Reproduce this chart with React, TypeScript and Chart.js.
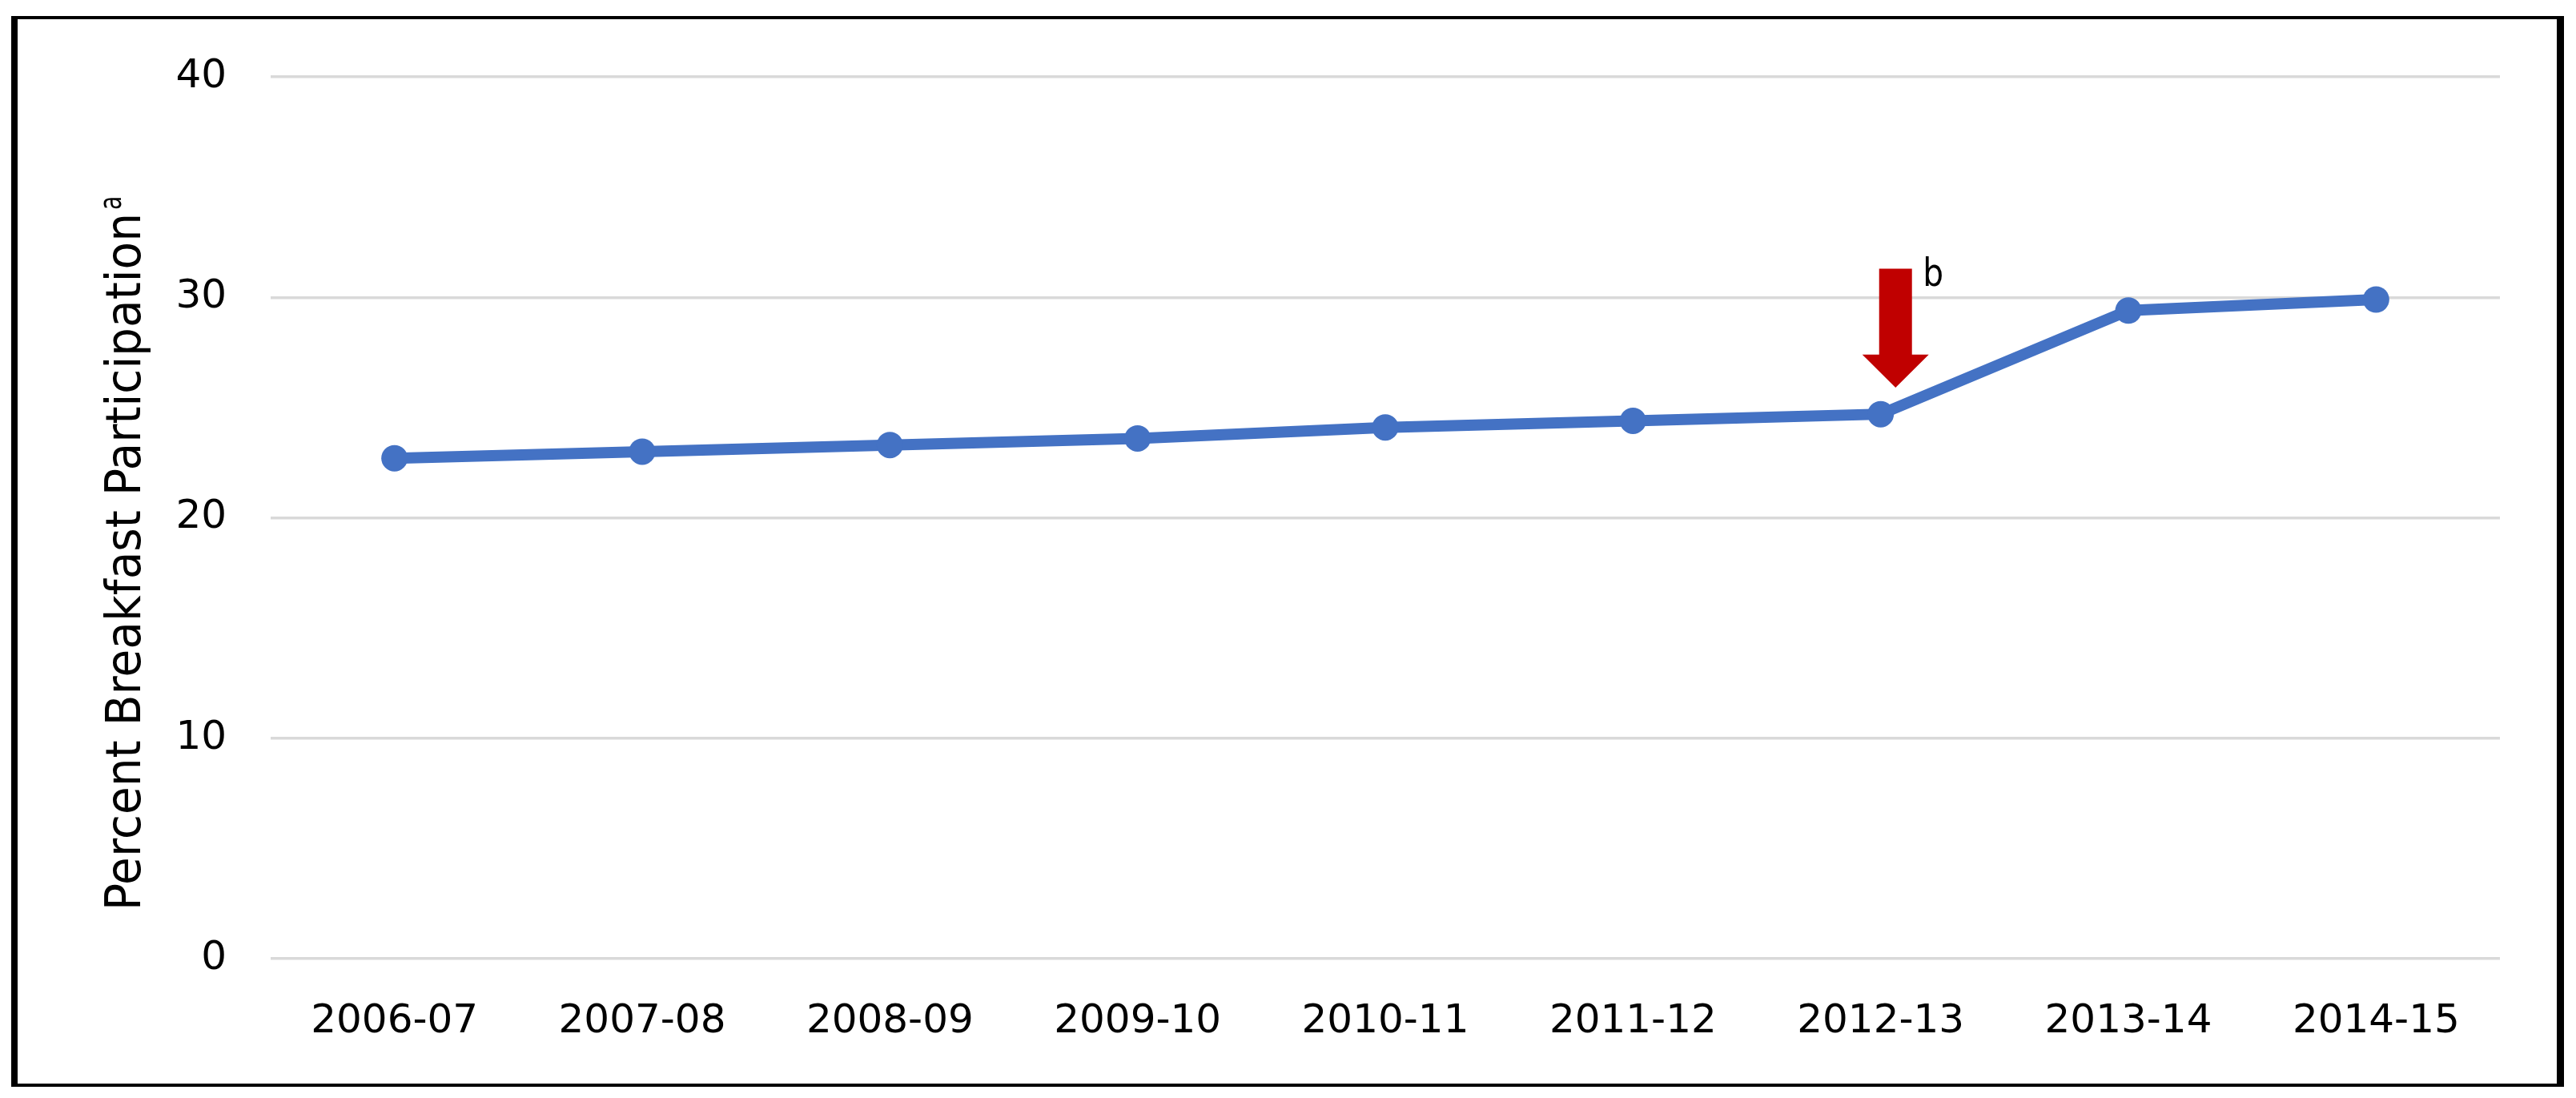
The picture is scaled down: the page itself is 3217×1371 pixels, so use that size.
import React, { useEffect, useRef } from "react";
import { Chart, registerables } from "chart.js";

Chart.register(...registerables);

const categories = [
  "2006-07",
  "2007-08",
  "2008-09",
  "2009-10",
  "2010-11",
  "2011-12",
  "2012-13",
  "2013-14",
  "2014-15",
];
const participation = [22.7, 23.0, 23.3, 23.6, 24.1, 24.4, 24.7, 29.4, 29.9];
const yMin = 0;
const yMax = 40;
const yStep = 10;

const yTitle = "Percent Breakfast Participation";
const yTitleSup = "a";

// annotation arrow (data coordinates: category index, percent)
const arrowX = 6.06;
const arrowTop = 31.3;
const arrowHeadBase = 27.4;
const arrowTip = 25.9;
const arrowLabel = "b";
const arrowLabelX = 6.17;
const arrowLabelY = 30.5;

const W = 3217;
const H = 1371;
const FONT = "'DejaVu Sans', sans-serif";

const annotationPlugin = {
  id: "annot",
  afterDatasetsDraw(chart: any) {
    const { ctx, scales } = chart;
    const xs = scales.x;
    const ys = scales.y;
    const cx = xs.getPixelForValue(arrowX);
    const yTop = ys.getPixelForValue(arrowTop);
    const yBase = ys.getPixelForValue(arrowHeadBase);
    const yTip = ys.getPixelForValue(arrowTip);
    const shaftHalf = 20.5;
    const headHalf = 41.5;
    ctx.save();
    ctx.fillStyle = "#C00000";
    ctx.beginPath();
    ctx.moveTo(cx - shaftHalf, yTop);
    ctx.lineTo(cx + shaftHalf, yTop);
    ctx.lineTo(cx + shaftHalf, yBase);
    ctx.lineTo(cx + headHalf, yBase);
    ctx.lineTo(cx, yTip);
    ctx.lineTo(cx - headHalf, yBase);
    ctx.lineTo(cx - shaftHalf, yBase);
    ctx.closePath();
    ctx.fill();
    ctx.fillStyle = "#000";
    ctx.font = `48px ${FONT}`;
    ctx.textAlign = "left";
    ctx.textBaseline = "alphabetic";
    ctx.save();
    ctx.translate(xs.getPixelForValue(arrowLabelX), ys.getPixelForValue(arrowLabelY));
    ctx.scale(0.85, 1);
    ctx.fillText(arrowLabel, 0, 0);
    ctx.restore();
    ctx.restore();
  },
  afterDraw(chart: any) {
    const { ctx } = chart;
    ctx.save();
    ctx.translate(175, 1137);
    ctx.rotate(-Math.PI / 2);
    ctx.fillStyle = "#000";
    ctx.textAlign = "left";
    ctx.textBaseline = "alphabetic";
    ctx.font = `61px ${FONT}`;
    const w = ctx.measureText(yTitle).width;
    const targetLen = 871;
    const sx = targetLen / w;
    ctx.save();
    ctx.scale(sx, 1);
    ctx.fillText(yTitle, 0, 0);
    ctx.restore();
    ctx.font = `38px ${FONT}`;
    ctx.save();
    ctx.translate(targetLen + 4, -24);
    ctx.scale(0.75, 1);
    ctx.fillText(yTitleSup, 0, 0);
    ctx.restore();
    ctx.restore();
  },
};

export default function App() {
  const canvasRef = useRef<HTMLCanvasElement | null>(null);

  useEffect(() => {
    document.body.style.margin = "0";
    const canvas = canvasRef.current;
    if (!canvas) return;
    const chart = new Chart(canvas, {
      type: "line",
      data: {
        labels: categories,
        datasets: [
          {
            data: participation,
            borderColor: "#4472C4",
            backgroundColor: "#4472C4",
            borderWidth: 14,
            pointRadius: 16.5,
            pointHoverRadius: 16.5,
            pointBorderWidth: 0,
            pointBackgroundColor: "#4472C4",
            tension: 0,
            fill: false,
          },
        ],
      },
      options: {
        animation: false,
        responsive: true,
        maintainAspectRatio: false,
        devicePixelRatio: 1,
        layout: { padding: { top: 96, right: 95, left: 0, bottom: 0 } },
        plugins: {
          legend: { display: false },
          tooltip: { enabled: false },
          title: { display: false },
        },
        scales: {
          x: {
            type: "category",
            offset: true,
            grid: { display: false, drawTicks: false },
            border: { display: false },
            ticks: {
              color: "#000",
              font: { family: FONT, size: 50 },
              padding: 49,
              autoSkip: false,
              maxRotation: 0,
              minRotation: 0,
            },
            afterFit(s: any) {
              s.height = 174;
            },
          },
          y: {
            min: yMin,
            max: yMax,
            grid: { color: "#D9D9D9", lineWidth: 3.5, drawTicks: false },
            border: { display: false },
            ticks: {
              stepSize: yStep,
              color: "#000",
              font: { family: FONT, size: 50 },
              padding: 55,
            },
            afterFit(s: any) {
              s.width = 338;
            },
          },
        },
      },
      plugins: [annotationPlugin],
    });
    return () => chart.destroy();
  }, []);

  return (
    <div style={{ position: "relative", width: W, height: H, background: "#fff" }}>
      <div style={{ position: "absolute", left: 0, top: 0, width: W, height: H }}>
        <canvas ref={canvasRef} />
      </div>
      <div
        style={{
          position: "absolute",
          left: 14,
          top: 20,
          width: 3202 - 14,
          height: 1357 - 20,
          boxSizing: "border-box",
          borderStyle: "solid",
          borderColor: "#000",
          borderLeftWidth: 8,
          borderTopWidth: 4,
          borderRightWidth: 9,
          borderBottomWidth: 4,
          pointerEvents: "none",
        }}
      />
    </div>
  );
}
